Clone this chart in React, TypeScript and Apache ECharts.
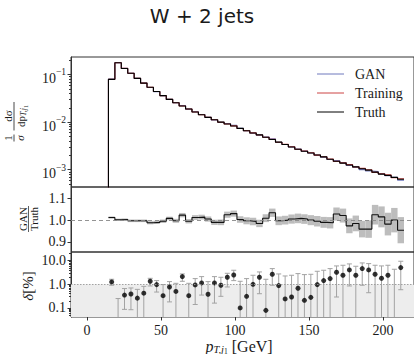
import React, { useEffect, useRef } from "react";
import * as echarts from "echarts";

// ---- data ----
const binEdges = [14.5, 18.84, 23.18, 27.52, 31.86, 36.2, 40.54, 44.88, 49.22, 53.56, 57.9, 62.24, 66.58, 70.92, 75.26, 79.6, 83.94, 88.28, 92.62, 96.96, 101.3, 105.64, 109.98, 114.32, 118.66, 123.0, 127.34, 131.68, 136.02, 140.36, 144.7, 149.04, 153.38, 157.72, 162.06, 166.4, 170.74, 175.08, 179.42, 183.76, 188.1, 192.44, 196.78, 201.12, 205.46, 209.8, 214.14];

const truth = [0.079, 0.177, 0.134, 0.106, 0.083, 0.066, 0.054, 0.044, 0.036, 0.030, 0.0255, 0.0218, 0.0188, 0.0163, 0.0143, 0.0126, 0.0112, 0.0100, 0.0091, 0.0083, 0.0074, 0.0066, 0.0059, 0.0054, 0.0048, 0.0043, 0.0038, 0.0034, 0.0030, 0.0027, 0.00245, 0.00224, 0.00204, 0.00186, 0.00166, 0.00151, 0.00138, 0.00126, 0.00115, 0.00105, 0.00098, 0.00089, 0.00081, 0.00076, 0.00069, 0.00063];

const ganRatio = [1.012, 1.002, 1.003, 0.997, 0.997, 0.997, 0.988, 0.990, 0.995, 1.008, 0.997, 1.023, 0.995, 1.012, 1.014, 1.005, 0.990, 0.990, 1.025, 1.030, 1.003, 0.997, 0.994, 0.985, 1.009, 1.034, 0.997, 1.000, 1.005, 1.008, 1.005, 1.000, 0.995, 0.990, 0.988, 1.028, 1.021, 0.974, 0.985, 0.959, 0.959, 1.025, 1.015, 0.982, 1.000, 0.954];

const ganRatioErr = [0.005, 0.005, 0.005, 0.006, 0.006, 0.006, 0.007, 0.007, 0.008, 0.008, 0.009, 0.010, 0.010, 0.011, 0.011, 0.012, 0.012, 0.013, 0.014, 0.014, 0.015, 0.016, 0.017, 0.017, 0.018, 0.019, 0.020, 0.020, 0.021, 0.022, 0.022, 0.023, 0.024, 0.025, 0.026, 0.030, 0.032, 0.034, 0.036, 0.038, 0.040, 0.045, 0.048, 0.052, 0.056, 0.060];

const trainRatio = [1.0, 0.998, 1.002, 1.001, 0.999, 1.0, 1.002, 0.998, 1.001, 1.0, 1.003, 0.998, 1.002, 1.0, 0.997, 1.003, 1.004, 0.996, 1.002, 1.005, 0.995, 1.004, 1.006, 0.996, 1.003, 1.008, 0.994, 1.006, 1.01, 0.995, 1.008, 1.012, 0.993, 1.01, 1.014, 0.99, 1.012, 1.018, 0.99, 1.015, 1.02, 0.988, 1.02, 1.025, 0.985, 1.03];

const delta = [1.26, null, 0.35, 0.39, 0.26, 0.42, 1.34, 0.97, 0.33, 0.77, 0.50, 2.11, 0.33, 0.94, 1.14, 0.38, 1.14, 0.91, 1.98, 2.48, 0.10, 0.31, 1.0, 1.98, 0.079, 2.65, 0.88, 0.24, 0.29, 0.68, 0.21, 0.28, 0.97, 1.43, 1.74, 3.22, 2.41, 4.05, 2.41, 4.61, 4.05, 2.65, 1.80, 2.41, null, 5.08];
const deltaHi = [1.63, 0.25, 0.66, 0.70, 0.61, 0.82, 1.79, 1.43, 0.97, 1.30, 1.10, 2.74, 1.10, 1.74, 2.11, 1.30, 2.11, 1.98, 2.92, 3.92, 1.34, 1.74, 2.41, 3.33, 1.63, 4.61, 2.74, 2.25, 2.41, 2.83, 2.57, 2.65, 3.55, 3.92, 4.61, 5.98, 6.38, 7.27, 5.79, 8.0, 7.5, 6.38, 5.98, 6.38, 4.32, 9.43];
// null: bar runs below the panel
const deltaLo = [0.91, null, 0.087, 0.084, null, null, 0.85, 0.47, null, 0.18, null, 1.34, null, 0.14, 0.35, null, 0.16, 0.31, 0.77, 1.43, null, null, null, 0.40, null, 0.91, null, null, null, null, null, null, null, null, null, 0.29, null, 0.85, null, 0.91, 0.44, null, null, null, null, 0.59];

const xTicks = [0, 50, 100, 150, 200];
const densityTicks = [0.001, 0.01, 0.1];
const ratioTicks = [0.9, 1.0, 1.1];
const deltaTicks = [0.1, 1, 10];
const legendNames = ["GAN", "Training", "Truth"];

// ---- styling ----
const GAN_C = "#6f79bd";
const TRAIN_C = "#cc4444";
const TRUTH_C = "#000000";
const SERIF = "'Liberation Serif', 'DejaVu Serif', serif";
const FRAME = "#333";
const INK = "#1a1a1a";

const X_MIN = -10.8;
const X_MAX = 220.9;

function minorLog(lo: number, hi: number, dmin: number, dmax: number) {
  const out: number[] = [];
  for (let d = dmin; d <= dmax; d++) {
    for (let m = 2; m <= 9; m++) {
      const v = m * Math.pow(10, d);
      if (v > lo && v < hi) out.push(v);
    }
  }
  return out;
}

export default function App() {
  const ref = useRef<HTMLDivElement>(null);

  useEffect(() => {
    if (!ref.current) return;
    const chart = echarts.init(ref.current, undefined, { renderer: "svg" });

    const n = truth.length;
    const centers = truth.map((_, i) => (binEdges[i] + binEdges[i + 1]) / 2);
    const gan = truth.map((v, i) => v * ganRatio[i]);
    const train = truth.map((v, i) => v * trainRatio[i]);
    const histStep = (vals: number[]) => [
      [binEdges[0], 1e-7],
      ...vals.map((v, i) => [binEdges[i], v]),
      [binEdges[n], vals[n - 1]],
    ];
    const ratioStep = [...ganRatio.map((v, i) => [binEdges[i], v]), [binEdges[n], ganRatio[n - 1]]];
    const bandData = ganRatio.map((v, i) => [binEdges[i], binEdges[i + 1], v - ganRatioErr[i], v + ganRatioErr[i]]);

    const TOP_MIN = 0.000434, TOP_MAX = 0.233;
    const MID_MIN = 0.854, MID_MAX = 1.152;
    const BOT_MIN = 0.0414, BOT_MAX = 23.2;

    const gridCommon = { left: 71, width: 343, show: true, borderColor: FRAME, borderWidth: 1, containLabel: false };
    const labelBase = { fontFamily: SERIF, fontSize: 14, color: INK };

    const supFormatter = (v: number) => {
      const e = Math.round(Math.log10(v));
      return `{b|10}{s|−${-e}}`;
    };

    const xAxisBase = (i: number) => ({
      type: "value",
      gridIndex: i,
      min: X_MIN,
      max: X_MAX,
      axisLine: { show: false, onZero: false },
      splitLine: { show: false },
      axisTick: i === 2
        ? { show: true, customValues: xTicks, length: 3.5, lineStyle: { color: FRAME } }
        : { show: false },
      axisLabel: i === 2
        ? { show: true, customValues: xTicks, margin: 6, ...labelBase }
        : { show: false },
    });

    const yLine = { show: true, onZero: false, lineStyle: { color: FRAME } };
    const yNoLine = { show: false, onZero: false };

    const option: any = {
      animation: false,
      grid: [
        { ...gridCommon, top: 57, height: 130 },
        { ...gridCommon, top: 187, height: 65 },
        { ...gridCommon, top: 252, height: 65 },
      ],
      xAxis: [xAxisBase(0), xAxisBase(1), xAxisBase(2)],
      yAxis: [
        {
          type: "log", logBase: 10, gridIndex: 0, position: "left", min: TOP_MIN, max: TOP_MAX,
          axisLine: yLine, splitLine: { show: false },
          axisTick: { show: true, customValues: densityTicks, length: 3.5, lineStyle: { color: FRAME } },
          axisLabel: {
            show: true, customValues: densityTicks, margin: 5, formatter: supFormatter,
            rich: {
              b: { fontFamily: SERIF, fontSize: 14, lineHeight: 14, padding: [4, 0, 0, 0], color: INK, verticalAlign: "top" },
              s: { fontFamily: SERIF, fontSize: 9.5, lineHeight: 10, color: INK, verticalAlign: "top" },
            },
          },
        },
        {
          type: "log", logBase: 10, gridIndex: 0, position: "left", offset: 0, min: TOP_MIN, max: TOP_MAX,
          axisLine: yNoLine, splitLine: { show: false },
          axisTick: { show: true, customValues: minorLog(TOP_MIN, TOP_MAX, -4, -1), length: 2, lineStyle: { color: FRAME } },
          axisLabel: { show: false },
        },
        {
          type: "value", gridIndex: 1, position: "left", min: MID_MIN, max: MID_MAX,
          axisLine: yLine, splitLine: { show: false },
          axisTick: { show: true, customValues: ratioTicks, length: 3.5, lineStyle: { color: FRAME } },
          axisLabel: { show: true, customValues: ratioTicks, margin: 5, formatter: (v: number) => v.toFixed(1), ...labelBase },
        },
        {
          type: "log", logBase: 10, gridIndex: 2, position: "left", min: BOT_MIN, max: BOT_MAX,
          axisLine: yLine, splitLine: { show: false },
          axisTick: { show: true, customValues: deltaTicks, length: 3.5, lineStyle: { color: FRAME } },
          axisLabel: { show: true, customValues: deltaTicks, margin: 5, formatter: (v: number) => v.toFixed(1), ...labelBase },
        },
        {
          type: "log", logBase: 10, gridIndex: 2, position: "left", offset: 0, min: BOT_MIN, max: BOT_MAX,
          axisLine: yNoLine, splitLine: { show: false },
          axisTick: { show: true, customValues: minorLog(BOT_MIN, BOT_MAX, -2, 1), length: 2, lineStyle: { color: FRAME } },
          axisLabel: { show: false },
        },
      ],
      series: [
        // top panel
        { name: "GAN", type: "line", xAxisIndex: 0, yAxisIndex: 0, step: "end", symbol: "none", data: histStep(gan), lineStyle: { color: GAN_C, width: 1.1 }, z: 2 },
        { name: "Training", type: "line", xAxisIndex: 0, yAxisIndex: 0, step: "end", symbol: "none", data: histStep(train), lineStyle: { color: TRAIN_C, width: 1.1 }, z: 3 },
        { name: "Truth", type: "line", xAxisIndex: 0, yAxisIndex: 0, step: "end", symbol: "none", data: histStep(truth), lineStyle: { color: TRUTH_C, width: 1.1 }, z: 4 },
        // middle panel
        {
          type: "custom", xAxisIndex: 1, yAxisIndex: 2, data: bandData, encode: { x: [0, 1], y: [2, 3] }, z: 2,
          renderItem: (_p: any, api: any) => {
            const a = api.coord([api.value(0), api.value(2)]);
            const b = api.coord([api.value(1), api.value(3)]);
            return { type: "rect", shape: { x: a[0], y: b[1], width: b[0] - a[0], height: a[1] - b[1] }, style: { fill: "#bdbdbd" } };
          },
        },
        {
          type: "line", xAxisIndex: 1, yAxisIndex: 2, step: "end", symbol: "none", data: ratioStep, lineStyle: { color: "#111", width: 1.1 }, z: 3,
          markLine: {
            silent: true, symbol: "none", label: { show: false },
            lineStyle: { color: "#888", type: [4, 3], width: 0.9 },
            data: [{ yAxis: 1 }],
          },
        },
        // bottom panel background
        {
          type: "line", xAxisIndex: 2, yAxisIndex: 3, data: [], z: 1,
          markArea: { silent: true, itemStyle: { color: "#ededed" }, data: [[{ yAxis: BOT_MIN }, { yAxis: 1 }]] },
          markLine: { silent: true, symbol: "none", label: { show: false }, lineStyle: { color: "#999", type: [1.5, 1.5], width: 0.9 }, data: [{ yAxis: 1 }] },
        },
        {
          type: "custom", xAxisIndex: 2, yAxisIndex: 3, z: 2,
          data: centers.map((c, i) => [c, deltaHi[i], i]), encode: { x: 0, y: 1 },
          renderItem: (params: any, api: any) => {
            const idx = api.value(2);
            const top = api.coord([api.value(0), api.value(1)]);
            const lo = deltaLo[idx];
            const cs = params.coordSys;
            const yb = lo == null ? cs.y + cs.height : api.coord([api.value(0), lo])[1];
            const st = { stroke: "#a3a3a3", lineWidth: 1 };
            const ch: any[] = [
              { type: "line", shape: { x1: top[0], y1: top[1], x2: top[0], y2: yb }, style: st },
              { type: "line", shape: { x1: top[0] - 2.5, y1: top[1], x2: top[0] + 2.5, y2: top[1] }, style: st },
            ];
            if (lo != null) ch.push({ type: "line", shape: { x1: top[0] - 2.5, y1: yb, x2: top[0] + 2.5, y2: yb }, style: st });
            return { type: "group", children: ch };
          },
        },
        {
          type: "scatter", xAxisIndex: 2, yAxisIndex: 3, z: 3, symbolSize: 5,
          itemStyle: { color: "#000" },
          data: centers.map((c, i) => (delta[i] == null ? null : [c, delta[i]])).filter((d) => d != null),
        },
      ],
      graphic: [
        { type: "text", x: 202, y: 16, style: { text: "W + 2 jets", fontFamily: "'DejaVu Sans', sans-serif", fontSize: 20, fill: INK, textAlign: "center", textVerticalAlign: "middle" } },
        // legend
        ...legendNames.map((name, i) => ({
          type: "group", x: 317, y: 74 + i * 19, children: [
            { type: "line", shape: { x1: 0, y1: 0, x2: 27, y2: 0 }, style: { stroke: [GAN_C, TRAIN_C, TRUTH_C][i], lineWidth: 1 } },
            { type: "text", x: 38, y: 0, style: { text: name, fontFamily: SERIF, fontSize: 14, fill: INK, textVerticalAlign: "middle" } },
          ],
        })),
        // y titles
        {
          type: "group", x: 14, y: 123, rotation: Math.PI / 2, children: [
            { type: "text", x: -15, y: -6, style: { text: "1", fontFamily: SERIF, fontSize: 11, fill: INK, textAlign: "center", textVerticalAlign: "middle" } },
            { type: "line", shape: { x1: -18.5, y1: 0, x2: -11.5, y2: 0 }, style: { stroke: INK, lineWidth: 0.8 } },
            { type: "text", x: -15, y: 5.5, style: { text: "σ", fontFamily: SERIF, fontSize: 11, fontStyle: "italic", fill: INK, textAlign: "center", textVerticalAlign: "middle" } },
            { type: "text", x: 7, y: -6, style: { text: "dσ", fontFamily: SERIF, fontSize: 11, fill: INK, textAlign: "center", textVerticalAlign: "middle" } },
            { type: "line", shape: { x1: -7.5, y1: 0, x2: 21, y2: 0 }, style: { stroke: INK, lineWidth: 0.8 } },
            {
              type: "text", x: 7, y: 7, style: {
                text: "{a|dp}{s|T,j}{t|1}", textAlign: "center", textVerticalAlign: "middle",
                rich: {
                  a: { fontFamily: SERIF, fontSize: 11, fill: INK, lineHeight: 11, verticalAlign: "top" },
                  s: { fontFamily: SERIF, fontSize: 8, fontStyle: "italic", fill: INK, lineHeight: 8, padding: [4, 0, 0, 0], verticalAlign: "top" },
                  t: { fontFamily: SERIF, fontSize: 6, fill: INK, lineHeight: 6, padding: [7, 0, 0, 0], verticalAlign: "top" },
                },
              },
            },
          ],
        },
        {
          type: "group", x: 28.5, y: 219, rotation: Math.PI / 2, children: [
            { type: "text", x: 0, y: -5.5, style: { text: "GAN", fontFamily: SERIF, fontSize: 11, fill: INK, textAlign: "center", textVerticalAlign: "middle" } },
            { type: "line", shape: { x1: -13, y1: 0, x2: 13, y2: 0 }, style: { stroke: INK, lineWidth: 0.7 } },
            { type: "text", x: 0, y: 5.5, style: { text: "Truth", fontFamily: SERIF, fontSize: 11, fill: INK, textAlign: "center", textVerticalAlign: "middle" } },
          ],
        },
        {
          type: "text", x: 28, y: 286, rotation: Math.PI / 2, style: {
            text: "{i|δ}[%]", textAlign: "center", textVerticalAlign: "middle",
            rich: { i: { fontFamily: SERIF, fontSize: 15, fontStyle: "italic", fill: INK } },
            fontFamily: SERIF, fontSize: 15, fill: INK,
          },
        },
        // x title
        {
          type: "text", x: 239, y: 346, style: {
            text: "{p|p}{s|T,j}{t|1}{n| [GeV]}", textAlign: "center", textVerticalAlign: "middle",
            rich: {
              p: { fontFamily: SERIF, fontSize: 16, fontStyle: "italic", fill: INK, lineHeight: 16, verticalAlign: "top" },
              s: { fontFamily: SERIF, fontSize: 10.5, fontStyle: "italic", fill: INK, lineHeight: 9, padding: [6, 0, 0, 0], verticalAlign: "top" },
              t: { fontFamily: SERIF, fontSize: 7.5, fill: INK, lineHeight: 7, padding: [9, 0, 0, 0], verticalAlign: "top" },
              n: { fontFamily: SERIF, fontSize: 16, fill: INK, lineHeight: 16, verticalAlign: "top" },
            },
          },
        },
      ],
    };

    chart.setOption(option);
    return () => chart.dispose();
  }, []);

  return <div ref={ref} style={{ position: "fixed", left: 0, top: 0, width: 414, height: 354, background: "#fff" }} />;
}
